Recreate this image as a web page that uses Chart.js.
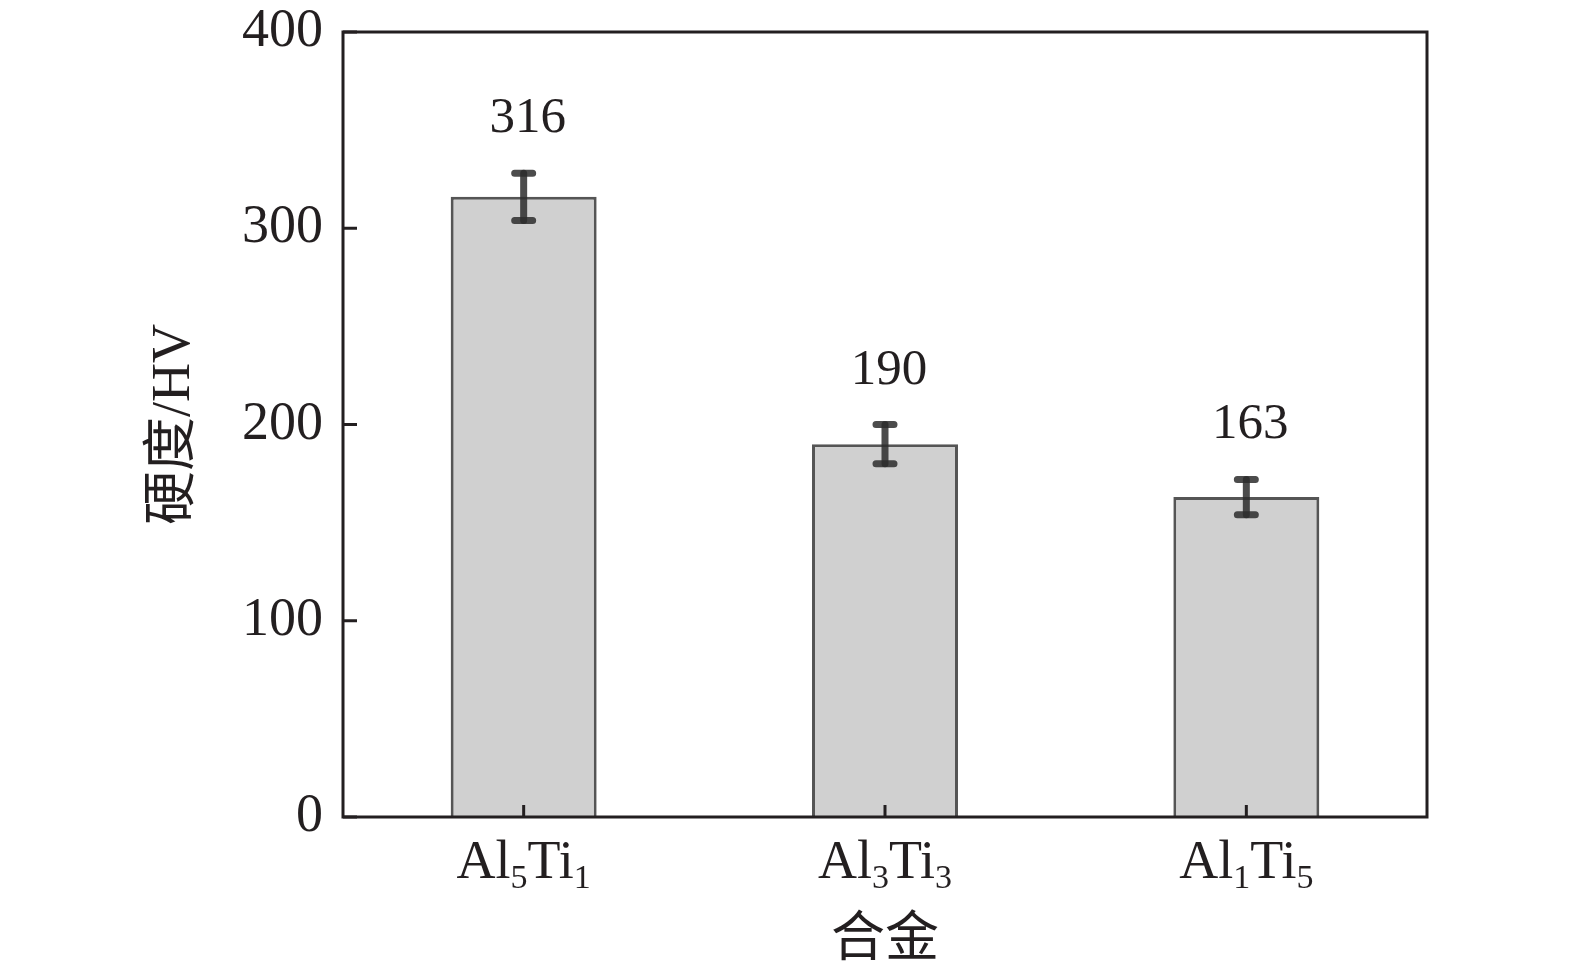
<!DOCTYPE html>
<html>
<head>
<meta charset="utf-8">
<script src="https://cdn.jsdelivr.net/npm/chart.js@4.4.0/dist/chart.umd.min.js"></script>
<style>
  body { margin: 0; background: #fff; }
  canvas { display: block; }
</style>
</head>
<body>
<canvas id="hardness-chart" width="1575" height="976"></canvas>
<script>
// Dados do gráfico
var alloys = ["Al5Ti1", "Al3Ti3", "Al1Ti5"]
var alloyMain = [["Al", "Ti"], ["Al", "Ti"], ["Al", "Ti"]]
var alloySub = [["5", "1"], ["3", "3"], ["1", "5"]]
var hardness = [316, 190, 163]
var hardnessErr = [12, 10, 9]
var yTicks = [0, 100, 200, 300, 400]

var inkColor = "#231f20"
var serif = "'Liberation Serif', 'Noto Sans CJK SC', serif"

// Moldura, marcas internas, barras de erro, rótulos de valor e rótulos com subscrito
var extrasPlugin = {
  id: "extras",
  afterDatasetsDraw: function (chart) {
    var ctx = chart.ctx
    var xs = chart.scales.x
    var ys = chart.scales.y
    var area = chart.chartArea
    var meta = chart.getDatasetMeta(0)

    ctx.save()
    // barras de erro
    ctx.strokeStyle = "rgba(45,45,45,0.85)"
    ctx.lineCap = "round"
    meta.data.forEach(function (bar, i) {
      var x = bar.x
      var top = ys.getPixelForValue(hardness[i] + hardnessErr[i])
      var bottom = ys.getPixelForValue(hardness[i] - hardnessErr[i])
      ctx.lineWidth = 7
      ctx.beginPath()
      ctx.moveTo(x, top)
      ctx.lineTo(x, bottom)
      ctx.stroke()
      ctx.beginPath()
      ctx.moveTo(x - 9, top)
      ctx.lineTo(x + 9, top)
      ctx.moveTo(x - 9, bottom)
      ctx.lineTo(x + 9, bottom)
      ctx.stroke()

      // rótulo do valor
      ctx.fillStyle = inkColor
      ctx.font = "51px " + serif
      ctx.textAlign = "center"
      ctx.textBaseline = "alphabetic"
      ctx.fillText(String(hardness[i]), x + 4, top - 41)
    })

    // moldura
    ctx.strokeStyle = inkColor
    ctx.lineWidth = 3
    ctx.lineCap = "butt"
    ctx.strokeRect(area.left, area.top, area.right - area.left, area.bottom - area.top)

    // marcas internas do eixo y
    yTicks.forEach(function (v) {
      var y = ys.getPixelForValue(v)
      ctx.beginPath()
      ctx.moveTo(area.left, y)
      ctx.lineTo(area.left + 14, y)
      ctx.stroke()
    })

    // marcas internas do eixo x e rótulos com subscrito
    alloys.forEach(function (name, i) {
      var x = xs.getPixelForValue(i)
      ctx.beginPath()
      ctx.moveTo(x, area.bottom)
      ctx.lineTo(x, area.bottom - 12)
      ctx.stroke()

      var mainFont = "54px " + serif
      var subFont = "34px " + serif
      var parts = []
      for (var k = 0; k < 2; k++) {
        parts.push({ t: alloyMain[i][k], f: mainFont, dy: 0 })
        parts.push({ t: alloySub[i][k], f: subFont, dy: 10 })
      }
      var total = 0
      parts.forEach(function (p) {
        ctx.font = p.f
        p.w = ctx.measureText(p.t).width
        total += p.w
      })
      var cx = x - total / 2
      var baseline = area.bottom + 61
      ctx.fillStyle = inkColor
      ctx.textAlign = "left"
      ctx.textBaseline = "alphabetic"
      parts.forEach(function (p) {
        ctx.font = p.f
        ctx.fillText(p.t, cx, baseline + p.dy)
        cx += p.w
      })
    })
    ctx.restore()
  }
}

window.onload = function () {
  var el = document.getElementById("hardness-chart")

  new Chart(el, {
    type: "bar",
    data: {
      labels: alloys,
      datasets: [{
        data: hardness,
        backgroundColor: "#d0d0d0",
        borderColor: "#555555",
        borderWidth: 3,
        borderSkipped: "bottom",
        categoryPercentage: 1.0,
        barPercentage: 0.404
      }]
    },
    options: {
      responsive: false,
      animation: false,
      devicePixelRatio: 1,
      layout: {
        padding: { top: 32, right: 148, left: 0, bottom: 0 }
      },
      plugins: {
        legend: { display: false },
        tooltip: { enabled: false }
      },
      scales: {
        x: {
          grid: { display: false },
          border: { display: false },
          ticks: { display: false },
          afterFit: function (scale) {
            scale.height = 159
            scale.paddingLeft = 0
            scale.paddingRight = 0
          },
          title: {
            display: true,
            text: "合金",
            color: inkColor,
            font: { family: serif, size: 54 },
            padding: { top: 0, bottom: 2 }
          }
        },
        y: {
          min: 0,
          max: 400,
          afterBuildTicks: function (scale) {
            scale.ticks = yTicks.map(function (v) { return { value: v } })
          },
          grid: { display: false, drawTicks: false },
          border: { display: false },
          ticks: {
            color: inkColor,
            font: { family: serif, size: 54 },
            padding: 20
          },
          afterFit: function (scale) {
            scale.width = 343
            scale.paddingTop = 0
            scale.paddingBottom = 0
          },
          title: {
            display: true,
            text: "硬度/HV",
            color: inkColor,
            font: { family: serif, size: 54 },
            padding: { top: 142, bottom: 0 }
          }
        }
      }
    },
    plugins: [extrasPlugin]
  })
}
</script>
</body>
</html>
